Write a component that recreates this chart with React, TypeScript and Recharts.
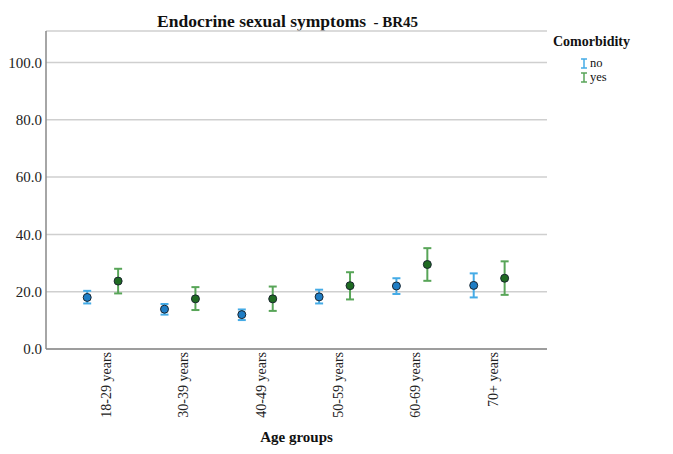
import React from "react";
import {
  ComposedChart,
  Scatter,
  ErrorBar,
  XAxis,
  YAxis,
  CartesianGrid,
} from "recharts";

const AGE_GROUPS = ["18-29 years", "30-39 years", "40-49 years", "50-59 years", "60-69 years", "70+ years"];

// comorbidity = no
const NO_MEAN = [18.0, 13.9, 12.0, 18.2, 22.0, 22.2];
const NO_LOW = [15.9, 12.0, 10.1, 15.9, 19.2, 18.0];
const NO_HIGH = [20.3, 15.7, 13.8, 20.7, 24.7, 26.4];

// comorbidity = yes
const YES_MEAN = [23.7, 17.5, 17.5, 22.1, 29.5, 24.7];
const YES_LOW = [19.4, 13.6, 13.3, 17.3, 23.8, 18.9];
const YES_HIGH = [28.0, 21.6, 21.8, 26.8, 35.2, 30.6];

const Y_TICKS = [0, 20, 40, 60, 80, 100];

const SERIF = '"Liberation Serif", "Times New Roman", serif';

const NO_BAR = "#45abe6";
const NO_DOT = "#1f7dc4";
const YES_BAR = "#58a558";
const YES_DOT = "#1f6b22";

const buildSeries = (mean: number[], low: number[], high: number[], shift: number) =>
  mean.map((m, i) => ({
    x: i + shift,
    y: m,
    err: [m - low[i], high[i] - m],
  }));

const noData = buildSeries(NO_MEAN, NO_LOW, NO_HIGH, -0.2);
const yesData = buildSeries(YES_MEAN, YES_LOW, YES_HIGH, 0.2);

const dot = (fill: string) => (props: any) =>
  <circle cx={props.cx} cy={props.cy} r={4} fill={fill} stroke="#1b2630" strokeWidth={1} />;

const AgeTick = ({ x, y, payload }: any) => (
  <text
    transform={`translate(${x + 4},${y + 3}) rotate(-90)`}
    textAnchor="end"
    dominantBaseline="central"
    fontFamily={SERIF}
    fontSize={14}
    fill="#222"
  >
    {AGE_GROUPS[payload.value]}
  </text>
);

const LegendBox = () => (
  <div style={{ position: "absolute", left: 553, top: 34, fontFamily: SERIF, color: "#111" }}>
    <div style={{ fontWeight: "bold", fontSize: 14, marginBottom: 6 }}>Comorbidity</div>
    {[
      { name: "no", color: NO_BAR },
      { name: "yes", color: YES_BAR },
    ].map((s) => (
      <div key={s.name} style={{ display: "flex", alignItems: "center", marginLeft: 27, fontSize: 12.5, lineHeight: "14px" }}>
        <svg width={8} height={11} style={{ marginRight: 2 }}>
          <line x1={1} y1={1} x2={7} y2={1} stroke={s.color} strokeWidth={1.5} />
          <line x1={4} y1={1} x2={4} y2={10} stroke={s.color} strokeWidth={1.5} />
          <line x1={1} y1={10} x2={7} y2={10} stroke={s.color} strokeWidth={1.5} />
        </svg>
        <span>{s.name}</span>
      </div>
    ))}
  </div>
);

export default function App() {
  return (
    <div style={{ position: "absolute", left: 0, top: 0, width: 673, height: 454, background: "#fff" }}>
      <div
        style={{
          position: "absolute",
          left: 157,
          top: 11,
          fontFamily: SERIF,
          fontWeight: "bold",
          fontSize: 17.5,
          color: "#111",
          whiteSpace: "nowrap",
        }}
      >
        Endocrine sexual symptoms <span style={{ fontSize: 15, marginLeft: 3 }}>- BR45</span>
      </div>
      <ComposedChart
        width={673}
        height={454}
        margin={{ top: 31, right: 126, bottom: 0, left: 0 }}
        style={{ position: "absolute", left: 0, top: 0 }}
      >
        <CartesianGrid vertical={false} stroke="#cfcfcf" strokeWidth={1.5} />
        <XAxis
          type="number"
          dataKey="x"
          domain={[-0.733, 5.748]}
          ticks={[0, 1, 2, 3, 4, 5]}
          allowDataOverflow
          interval={0}
          height={105}
          tickLine={false}
          tickSize={0}
          tickMargin={0}
          stroke="#888"
          strokeWidth={1.5}
          tick={<AgeTick />}
          label={{
            value: "Age groups",
            position: "insideBottom",
            offset: 12,
            style: { fontFamily: SERIF, fontWeight: "bold", fontSize: 15, fill: "#111" },
          }}
        />
        <YAxis
          type="number"
          dataKey="y"
          domain={[0, 111]}
          ticks={Y_TICKS}
          allowDataOverflow
          width={46}
          tickLine={false}
          tickSize={0}
          tickMargin={4}
          stroke="#888"
          strokeWidth={1.5}
          tickFormatter={(v: number) => v.toFixed(1)}
          tick={{ fontFamily: SERIF, fontSize: 15, fill: "#222" }}
        />
        <Scatter name="no" data={noData} fill={NO_DOT} shape={dot(NO_DOT)} isAnimationActive={false}>
          <ErrorBar dataKey="err" direction="y" width={4} stroke={NO_BAR} strokeWidth={2} />
        </Scatter>
        <Scatter name="yes" data={yesData} fill={YES_DOT} shape={dot(YES_DOT)} isAnimationActive={false}>
          <ErrorBar dataKey="err" direction="y" width={4} stroke={YES_BAR} strokeWidth={2} />
        </Scatter>
      </ComposedChart>
      <LegendBox />
    </div>
  );
}
